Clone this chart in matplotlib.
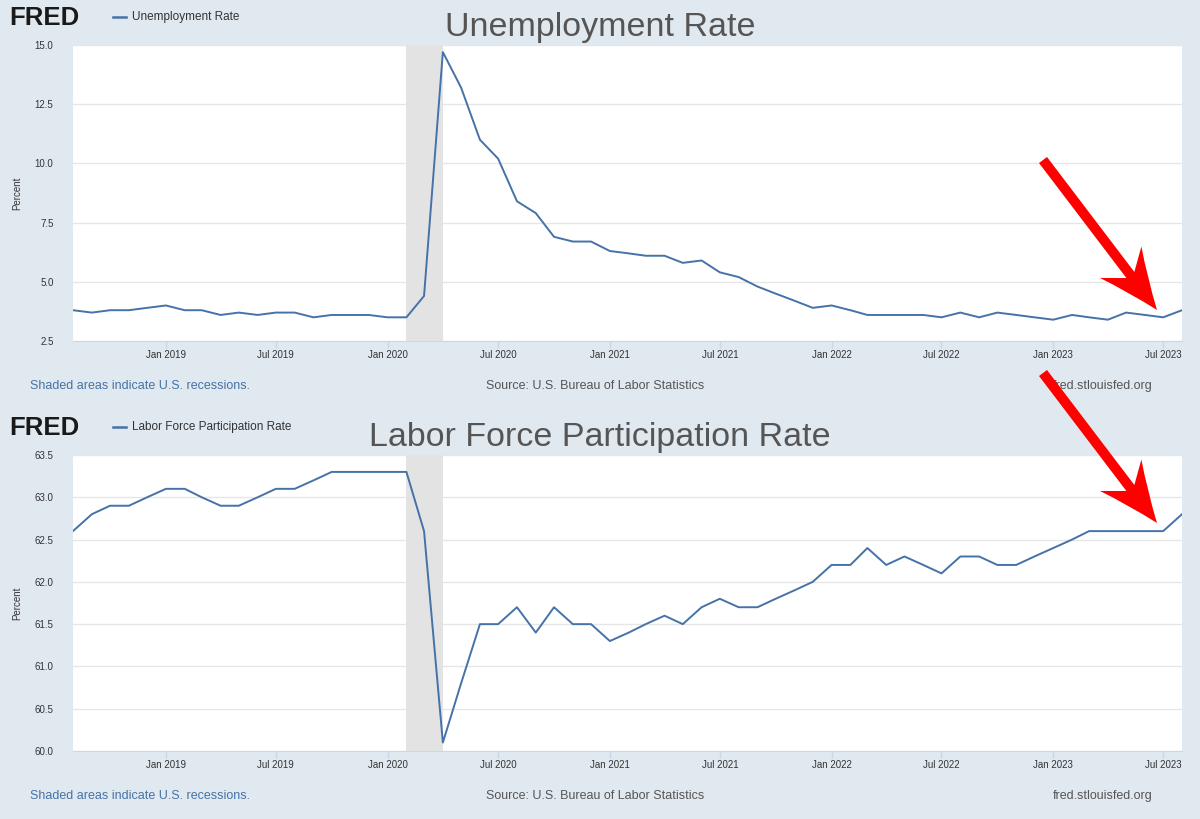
import numpy as np
import pandas as pd
import matplotlib
matplotlib.use("Agg")
import matplotlib.pyplot as plt
import matplotlib.dates as mdates
from matplotlib.path import Path
from matplotlib.patches import PathPatch

plt.rcParams['font.family'] = ['Liberation Sans', 'DejaVu Sans']

# monthly data, Aug 2018 - Aug 2023
months = pd.date_range("2018-08-01", "2023-08-01", freq="MS")

unrate = [3.8, 3.7, 3.8, 3.8, 3.9,
          4.0, 3.8, 3.8, 3.6, 3.7, 3.6, 3.7, 3.7, 3.5, 3.6, 3.6, 3.6,
          3.5, 3.5, 4.4, 14.7, 13.2, 11.0, 10.2, 8.4, 7.9, 6.9, 6.7, 6.7,
          6.3, 6.2, 6.1, 6.1, 5.8, 5.9, 5.4, 5.2, 4.8, 4.5, 4.2, 3.9,
          4.0, 3.8, 3.6, 3.6, 3.6, 3.6, 3.5, 3.7, 3.5, 3.7, 3.6, 3.5,
          3.4, 3.6, 3.5, 3.4, 3.7, 3.6, 3.5, 3.8]

civpart = [62.6, 62.8, 62.9, 62.9, 63.0,
           63.1, 63.1, 63.0, 62.9, 62.9, 63.0, 63.1, 63.1, 63.2, 63.3, 63.3, 63.3,
           63.3, 63.3, 62.6, 60.1, 60.8, 61.5, 61.5, 61.7, 61.4, 61.7, 61.5, 61.5,
           61.3, 61.4, 61.5, 61.6, 61.5, 61.7, 61.8, 61.7, 61.7, 61.8, 61.9, 62.0,
           62.2, 62.2, 62.4, 62.2, 62.3, 62.2, 62.1, 62.3, 62.3, 62.2, 62.2, 62.3,
           62.4, 62.5, 62.6, 62.6, 62.6, 62.6, 62.6, 62.8]

recession = ("2020-02-01", "2020-04-01")

panels = [
    dict(title="Unemployment Rate", series=unrate,
         yticks=[2.5, 5.0, 7.5, 10.0, 12.5, 15.0], top=45, off=0),
    dict(title="Labor Force Participation Rate", series=civpart,
         yticks=[60.0, 60.5, 61.0, 61.5, 62.0, 62.5, 63.0, 63.5], top=455, off=410),
]

W, H = 1200, 819
BG = "#e1e9f0"
LINE = "#4572a7"


def fx(x):
    return x / W


def fy(y):
    return 1 - y / H


def red_arrow(tail, tip):
    # stealth-style arrow, built in pixel space then mapped to figure fraction
    tail = np.array(tail, float)
    tip = np.array(tip, float)
    u = (tip - tail) / np.linalg.norm(tip - tail)
    n = np.array([-u[1], u[0]])
    total = np.linalg.norm(tip - tail)

    def pt(s, t):
        p = tip - s * u + t * n
        return (fx(p[0]), fy(p[1]))

    verts = [pt(0, 0), pt(32, 12), pt(60, 26), pt(44, 5), pt(total, 5),
             pt(total, -5), pt(44, -5), pt(60, -26), pt(32, -12), pt(0, 0)]
    codes = [Path.MOVETO, Path.CURVE3, Path.CURVE3, Path.LINETO, Path.LINETO,
             Path.LINETO, Path.LINETO, Path.LINETO, Path.CURVE3, Path.CURVE3]
    fig.add_artist(PathPatch(Path(verts, codes), transform=fig.transFigure,
                             facecolor="#ff0000", edgecolor="none", zorder=10))


fig = plt.figure(figsize=(12, 8.19), dpi=100, facecolor=BG)

for p in panels:
    off = p["off"]
    ax = fig.add_axes([fx(73), fy(p["top"] + 296), fx(1182 - 73), 296 / H])
    ax.set_facecolor("white")
    ax.axvspan(pd.Timestamp(recession[0]), pd.Timestamp(recession[1]),
               color="#e3e3e3", lw=0, zorder=1)
    ax.plot(months, p["series"], color=LINE, lw=1.4, zorder=3)
    ax.set_xlim(months[0], months[-1])
    ax.set_ylim(p["yticks"][0], p["yticks"][-1])
    ax.set_yticks(p["yticks"])
    ax.set_yticklabels([f"{v:.1f}" for v in p["yticks"]])
    ax.grid(axis="y", color="#e6e6e6", lw=1, zorder=0)
    ax.set_axisbelow(True)
    ax.xaxis.set_major_locator(mdates.MonthLocator(bymonth=[1, 7]))
    ax.xaxis.set_major_formatter(mdates.DateFormatter("%b %Y"))
    for s in ["top", "right", "left"]:
        ax.spines[s].set_visible(False)
    ax.spines["bottom"].set_color("#ccd6eb")
    ax.tick_params(axis="y", length=0, pad=14, labelsize=7, labelcolor="#333333")
    ax.tick_params(axis="x", length=5, width=1, color="#ccd6eb", pad=1.5,
                   labelsize=7, labelcolor="#333333")
    ax.set_ylabel("Percent", fontsize=7, color="#333333")
    ax.yaxis.set_label_coords(fx(22 - 73) / fx(1182 - 73), 0.5)

    # header
    fig.text(fx(600), fy(36 + off), p["title"], fontsize=24.5, color="#555555",
             ha="center", va="baseline")
    fig.text(fx(9), fy(18 + off), "FRED", fontsize=18.5, fontweight="bold",
             color="#1a1a1a", ha="left", va="center")
    fig.add_artist(plt.Line2D([fx(113), fx(126)], [fy(17 + off), fy(17 + off)],
                              color=LINE, lw=1.8))
    fig.text(fx(132), fy(17 + off), p["title"], fontsize=8.5, color="#333333",
             ha="left", va="center")

    # footer
    fig.text(fx(30), fy(386 + off), "Shaded areas indicate U.S. recessions.",
             fontsize=9, color=LINE, ha="left", va="center")
    fig.text(fx(595), fy(386 + off), "Source: U.S. Bureau of Labor Statistics",
             fontsize=9, color="#555555", ha="center", va="center")
    fig.text(fx(1153), fy(386 + off), "fred.stlouisfed.org",
             fontsize=9, color="#555555", ha="right", va="center")

# red arrows
red_arrow((1043, 160), (1157, 310))
red_arrow((1043, 373), (1157, 523))

fig.savefig("out.png", dpi=100, facecolor=BG)
